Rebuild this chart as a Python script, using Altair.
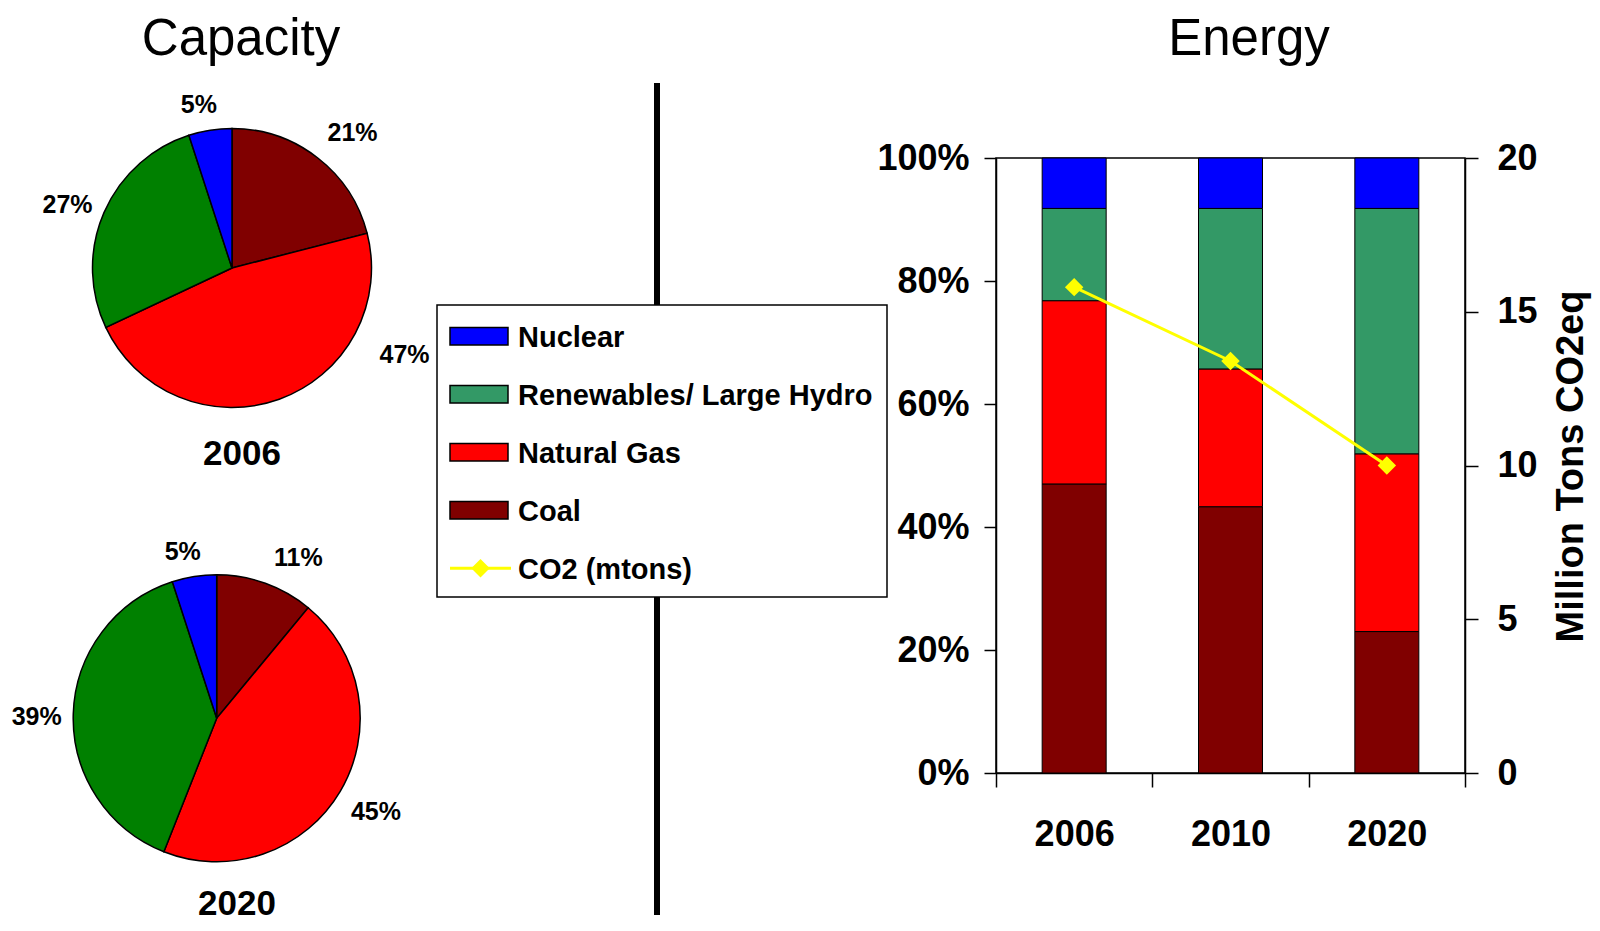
import math
import altair as alt
import pandas as pd

# ---------------- data ----------------
years = ["2006", "2010", "2020"]
sources = ["Coal", "Natural Gas", "Renewables/ Large Hydro", "Nuclear"]
energy_coal = [47.0, 43.3, 23.0]
energy_gas = [29.8, 22.4, 28.9]
energy_renew = [15.0, 26.1, 39.9]
energy_nuclear = [8.2, 8.2, 8.2]
co2_mtons = [15.8, 13.4, 10.0]

cap_years = ["2006", "2020"]
cap_coal = [21, 11]
cap_gas = [47, 45]
cap_renew = [27, 39]
cap_nuclear = [5, 5]

legend_labels = ["Nuclear", "Renewables/ Large Hydro", "Natural Gas", "Coal", "CO2 (mtons)"]

# ---------------- styles / layout ----------------
bar_colors = ["#800000", "#FF0000", "#339966", "#0000FF"]
pie_colors = ["#800000", "#FF0000", "#008000", "#0000FF"]
FONT = "Liberation Sans, Arial, Helvetica, sans-serif"
W, H = 469, 615
PAD = {"left": 988, "top": 150, "right": 127, "bottom": 150}
OX, OY = 8 + PAD["left"], 8 + PAD["top"]  # page position of plot origin


def px(x):
    return x - OX


def py(y):
    return y - OY


pie_layout = {
    "2006": {"cx": 232, "cy": 268, "r": 139.5, "lab_r": [181, 193, 176, 166],
             "nudge": [1.1, -12.1, -0.7, -0.7], "yl_x": 242, "yl_y": 465},
    "2020": {"cx": 216.7, "cy": 718.3, "r": 143.5, "lab_r": [180, 185, 180, 170],
             "nudge": [2.0, 0.0, -0.4, -0.7], "yl_x": 237, "yl_y": 915},
}

# ---------------- tables ----------------
energy_vals = [energy_coal, energy_gas, energy_renew, energy_nuclear]
bar_rows = []
for si, s in enumerate(sources):
    for yi, y in enumerate(years):
        bar_rows.append({"year": y, "source": s, "share": energy_vals[si][yi] / 100.0, "order": si})
bar_df = pd.DataFrame(bar_rows)
co2_df = pd.DataFrame({"year": years, "co2": co2_mtons})

cap_vals = [cap_coal, cap_gas, cap_renew, cap_nuclear]

theta_scale = alt.Scale(domain=[0, 100], range=[0, 2 * math.pi])
pie_fill_scale = alt.Scale(domain=sources, range=pie_colors)
bar_color_scale = alt.Scale(domain=sources, range=bar_colors)

layers = []

# separator line
layers.append(
    alt.Chart(pd.DataFrame({"a": [0]})).mark_rule(color="black", strokeWidth=6).encode(
        x=alt.value(px(657)), y=alt.value(py(83)), y2=alt.value(py(915))
    )
)

# pies
for yi, yr in enumerate(cap_years):
    L = pie_layout[yr]
    rows = []
    cum = 0
    for si, s in enumerate(sources):
        v = cap_vals[si][yi]
        rows.append({
            "source": s, "share": v, "order": si,
            "label": f"{v}%",
            "lt": cum + v / 2 + L["nudge"][si],
            "lr": L["lab_r"][si],
        })
        cum += v
    pdf = pd.DataFrame(rows)
    layers.append(
        alt.Chart(pdf).mark_arc(radius=L["r"], stroke="black", strokeWidth=1.5).encode(
            theta=alt.Theta("share:Q", stack=True, scale=theta_scale),
            fill=alt.Fill("source:N", scale=pie_fill_scale, legend=None),
            order=alt.Order("order:Q"),
            x=alt.value(px(L["cx"])),
            y=alt.value(py(L["cy"])),
        )
    )
    layers.append(
        alt.Chart(pdf).mark_text(font=FONT, fontSize=25, fontWeight="bold", color="black",
                                 align="center", baseline="middle").encode(
            theta=alt.Theta("lt:Q", stack=None, scale=theta_scale),
            radius=alt.Radius("lr:Q", scale=None),
            text="label:N",
            x=alt.value(px(L["cx"])),
            y=alt.value(py(L["cy"])),
        )
    )
    layers.append(
        alt.Chart(pd.DataFrame({"t": [yr]})).mark_text(font=FONT, fontSize=35, fontWeight="bold",
                                                       color="black", align="center",
                                                       baseline="alphabetic").encode(
            text="t:N", x=alt.value(px(L["yl_x"])), y=alt.value(py(L["yl_y"]))
        )
    )

# titles
for t, cx in [("Capacity", 241), ("Energy", 1249)]:
    layers.append(
        alt.Chart(pd.DataFrame({"t": [t]})).mark_text(font=FONT, fontSize=51, color="black",
                                                      align="center", baseline="alphabetic").encode(
            text="t:N", x=alt.value(px(cx)), y=alt.value(py(55))
        )
    )

# legend box
layers.append(
    alt.Chart(pd.DataFrame({"a": [0]})).mark_rect(fill="white", stroke="black", strokeWidth=1.5).encode(
        x=alt.value(px(437)), x2=alt.value(px(887)), y=alt.value(py(305)), y2=alt.value(py(597))
    )
)
leg_df = pd.DataFrame({"label": legend_labels, "idx": list(range(len(legend_labels)))})
leg_df["source"] = ["Nuclear", "Renewables/ Large Hydro", "Natural Gas", "Coal", ""]
leg_scale = alt.Scale(domain=[0, 4], range=[py(336.3), py(568.3)])
sw = leg_df[leg_df["idx"] < 4].copy()
sw["y1"] = sw["idx"] - 0.152
sw["y2"] = sw["idx"] + 0.152
layers.append(
    alt.Chart(sw).mark_rect(stroke="black", strokeWidth=1.5).encode(
        x=alt.value(px(450)), x2=alt.value(px(508)),
        y=alt.Y("y1:Q", scale=leg_scale, axis=None), y2="y2:Q",
        color=alt.Color("source:N", scale=bar_color_scale, legend=None),
    )
)
layers.append(
    alt.Chart(leg_df).mark_text(font=FONT, fontSize=29, fontWeight="bold", color="black",
                                align="left", baseline="middle", dy=2).encode(
        x=alt.value(px(518)),
        y=alt.Y("idx:Q", scale=leg_scale, axis=None),
        text="label:N",
    )
)
layers.append(
    alt.Chart(pd.DataFrame({"a": [0]})).mark_rule(color="#FFFF00", strokeWidth=3).encode(
        x=alt.value(px(450)), x2=alt.value(px(511)), y=alt.value(py(568.3))
    )
)
layers.append(
    alt.Chart(pd.DataFrame({"a": [0]})).mark_point(shape="diamond", filled=True, color="#FFFF00",
                                                  size=340, opacity=1).encode(
        x=alt.value(px(480.5)), y=alt.value(py(568.3))
    )
)

# stacked bars
bars = alt.Chart(bar_df).mark_bar(size=64, stroke="black", strokeWidth=1).encode(
    x=alt.X("year:N", sort=years,
            scale=alt.Scale(paddingInner=0, paddingOuter=0),
            axis=alt.Axis(title=None, labelAngle=0, tickBand="extent", tickSize=14,
                          labelPadding=30, labelFontSize=36)),
    y=alt.Y("share:Q", stack="zero", scale=alt.Scale(domain=[0, 1]),
            axis=alt.Axis(title=None, format="%", values=[0, 0.2, 0.4, 0.6, 0.8, 1.0],
                          tickSize=12, labelPadding=15, labelFontSize=36, orient="left")),
    color=alt.Color("source:N", scale=bar_color_scale, legend=None),
    order=alt.Order("order:Q"),
)
layers.append(bars)

line = alt.Chart(co2_df).mark_line(
    color="#FFFF00", strokeWidth=3,
    point=alt.OverlayMarkDef(shape="diamond", size=340, filled=True, color="#FFFF00", opacity=1),
).encode(
    x=alt.X("year:N", sort=years),
    y=alt.Y("co2:Q", scale=alt.Scale(domain=[0, 20]),
            axis=alt.Axis(orient="right", values=[0, 5, 10, 15, 20], tickSize=13, labelPadding=19,
                          labelFontSize=36, title="Million Tons CO2eq", titleFont=FONT,
                          titleFontSize=38, titleFontWeight="bold", titleColor="black",
                          titleAngle=270, titleX=117, titleY=308, titleAlign="center",
                          titleBaseline="alphabetic")),
)
layers.append(line)

chart = alt.layer(*layers).resolve_scale(y="independent").properties(
    width=W, height=H,
    autosize=alt.AutoSizeParams(type="none"),
    padding=PAD,
    background="white",
).configure_view(stroke="black", strokeWidth=1.5).configure_axis(
    labelFont=FONT, labelFontWeight="bold", labelColor="black",
    tickColor="black", domainColor="black", tickWidth=1.5, domainWidth=1.5, grid=False,
)

chart.save("out.html", embed_options={"renderer": "svg", "actions": False})
